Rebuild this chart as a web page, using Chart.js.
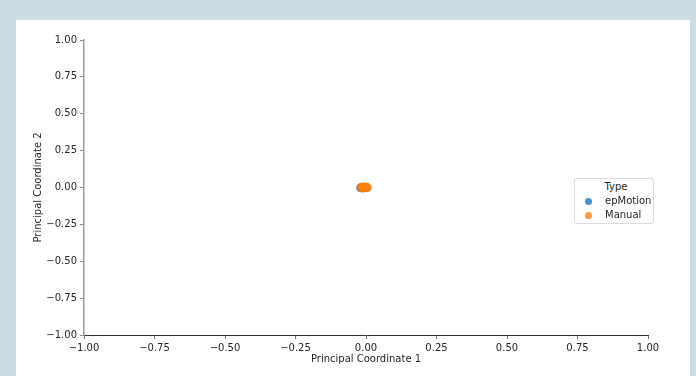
<!DOCTYPE html>
<html>
<head>
<meta charset="utf-8">
<script src="https://cdn.jsdelivr.net/npm/chart.js@4/dist/chart.umd.min.js"></script>
<style>
  html, body { margin: 0; padding: 0; }
  body { width: 696px; height: 376px; background: #cddbe3; position: relative; overflow: hidden; font-family: "DejaVu Sans", sans-serif; }
  #panel { position: absolute; left: 16px; top: 20px; width: 674px; height: 356px; background: #fff; }
  #wrap { position: absolute; left: 0; top: 0; width: 696px; height: 376px; }
  #legend { position: absolute; left: 574px; top: 178px; width: 78px; height: 44px; border: 1px solid #dcdcdc; border-radius: 3px; background: #fff; font-size: 10px; color: #262626; }
  #legend .title { text-align: center; margin-top: 1px; line-height: 14px; padding-left: 4px; }
  #legend .row { line-height: 14px; position: relative; padding-left: 30px; }
  #legend .dot { position: absolute; left: 10px; top: 4px; width: 7px; height: 7px; border-radius: 50%; }
</style>
</head>
<body>
<div id="panel"></div>
<div id="wrap"><canvas id="grafica" width="696" height="376"></canvas></div>
<div id="legend">
  <div class="title">Type</div>
  <div class="row"><span class="dot" style="background:rgba(31,119,180,0.8)"></span>epMotion</div>
  <div class="row"><span class="dot" style="background:rgba(255,127,14,0.8)"></span>Manual</div>
</div>
<script>
// datos
const tiposMuestra = ['epMotion', 'Manual'];
const epMotionX = [-0.019, -0.015, -0.011, -0.007, -0.003, 0.001];
const epMotionY = [-0.002, 0.001, -0.003, 0.002, 0.000, -0.001];
const manualX = [-0.016, -0.012, -0.008, -0.004, 0.000, 0.005];
const manualY = [0.001, 0.002, -0.001, 0.001, 0.003, 0.000];
const valoresTicks = [-1, -0.75, -0.5, -0.25, 0, 0.25, 0.5, 0.75, 1];

function puntos(xs, ys) {
    return xs.map((x, i) => ({ x: x, y: ys[i] }));
}

function etiqueta(v) {
    const s = Math.abs(v).toFixed(2);
    return v < 0 ? '\u2212' + s : s;
}

const fuente = { family: 'DejaVu Sans', size: 10 };

const ctx = document.getElementById('grafica').getContext('2d');
new Chart(ctx, {
    type: 'scatter',
    data: {
        datasets: [
            {
                label: tiposMuestra[0],
                data: puntos(epMotionX, epMotionY),
                backgroundColor: 'rgba(31,119,180,0.8)',
                borderColor: 'rgba(31,119,180,0.8)',
                pointRadius: 4.5,
                borderWidth: 0,
                order: 2
            },
            {
                label: tiposMuestra[1],
                data: puntos(manualX, manualY),
                backgroundColor: 'rgba(255,127,14,0.8)',
                borderColor: 'rgba(255,127,14,0.8)',
                pointRadius: 4.5,
                borderWidth: 0,
                order: 1 // manual encima
            }
        ]
    },
    options: {
        responsive: false,
        animation: false,
        layout: { padding: { left: 0, top: 40, right: 48, bottom: 0 } },
        plugins: { legend: { display: false }, tooltip: { enabled: false } },
        scales: {
            x: {
                type: 'linear',
                min: -1, max: 1,
                afterBuildTicks: s => { s.ticks = valoresTicks.map(v => ({ value: v })); },
                afterFit: s => { s.height = 41; },
                ticks: { callback: etiqueta, font: fuente, color: '#262626', padding: 3, maxRotation: 0 },
                grid: { drawOnChartArea: false, drawTicks: true, tickLength: 4, color: '#777' },
                border: { color: '#333', width: 1 },
                title: { display: true, text: 'Principal Coordinate 1', font: fuente, color: '#262626', padding: { top: 0, bottom: 11 } }
            },
            y: {
                type: 'linear',
                min: -1, max: 1,
                afterBuildTicks: s => { s.ticks = valoresTicks.map(v => ({ value: v })); },
                afterFit: s => { s.width = 84; },
                ticks: { callback: etiqueta, font: fuente, color: '#262626', padding: 3 },
                grid: { drawOnChartArea: false, drawTicks: true, tickLength: 4, color: '#888' },
                border: { color: '#999', width: 1.5 },
                title: { display: true, text: 'Principal Coordinate 2', font: fuente, color: '#262626', padding: { top: 32, bottom: 0 } }
            }
        }
    }
});
</script>
</body>
</html>
